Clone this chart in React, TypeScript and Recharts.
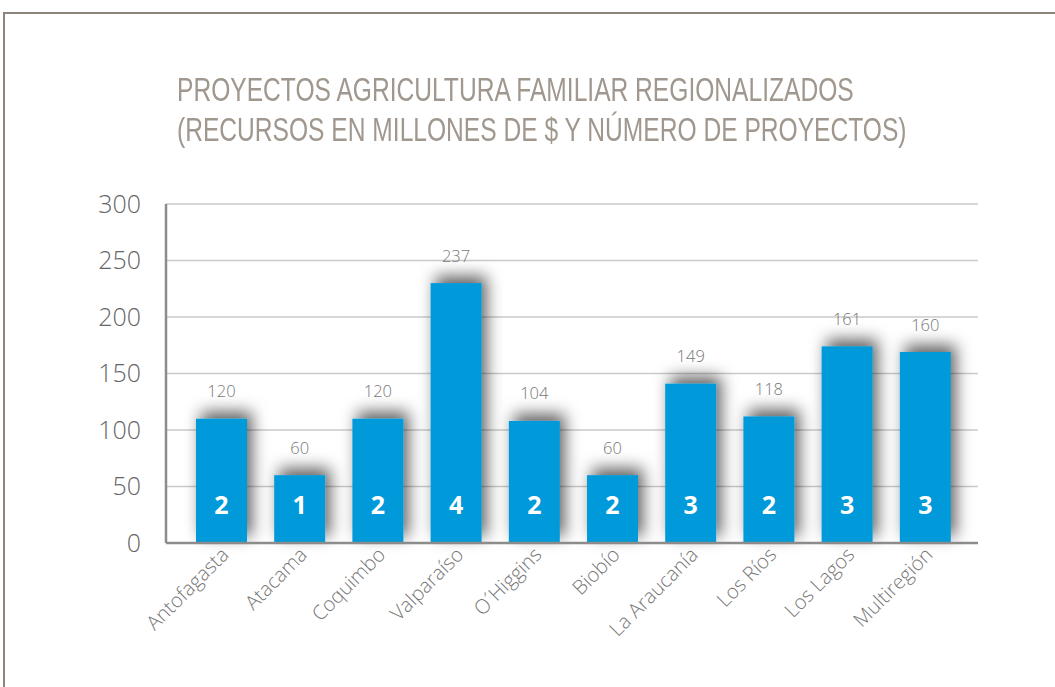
import React from 'react';
import { BarChart, Bar, XAxis, YAxis, CartesianGrid, LabelList } from 'recharts';

// regions along the x axis
const regions = [
  'Antofagasta', 'Atacama', 'Coquimbo', 'Valparaíso', 'O´Higgins',
  'Biobío', 'La Araucanía', 'Los Ríos', 'Los Lagos', 'Multiregión',
];
// bar heights as drawn (millones de $)
const resources = [110, 60, 110, 230, 108, 60, 141, 112, 174, 169];
// value labels printed above the bars
const resourceLabels = [120, 60, 120, 237, 104, 60, 149, 118, 161, 160];
// number of projects printed inside the bars
const projectCounts = [2, 1, 2, 4, 2, 2, 3, 2, 3, 3];
const yTicks = [0, 50, 100, 150, 200, 250, 300];

const titleLines = [
  'PROYECTOS AGRICULTURA FAMILIAR REGIONALIZADOS',
  '(RECURSOS EN MILLONES DE $ Y NÚMERO DE PROYECTOS)',
];

const data = regions.map((region, i) => ({
  region,
  value: resources[i],
  label: resourceLabels[i],
  count: projectCounts[i],
}));

const lightFont = '"Open Sans", "Segoe UI", sans-serif';

const ShadowBar = (props: any) => {
  const { x, y, width, height, fill } = props;
  return <rect x={x} y={y} width={width} height={height} fill={fill} filter="url(#barShadow)" />;
};

const TopLabel = (props: any) => {
  const vb = props.viewBox || props;
  const { x, y, width } = vb;
  return (
    <text x={x + width / 2} y={y - 28} textAnchor="middle" dominantBaseline="central"
      fontFamily={lightFont} fontWeight={300} fontSize={16.5} fill="#777777">
      {props.value}
    </text>
  );
};

const CountLabel = (props: any) => {
  const vb = props.viewBox || props;
  const { x, y, width, height } = vb;
  return (
    <text x={x + width / 2} y={y + height - 39} textAnchor="middle" dominantBaseline="central"
      fontFamily={lightFont} fontWeight={700} fontSize={25} fill="#ffffff">
      {props.value}
    </text>
  );
};

const RegionTick = (props: any) => {
  const { x, y, payload } = props;
  const tx = x + 9;
  const ty = y + 13;
  return (
    <text x={tx} y={ty} transform={`rotate(-45, ${tx}, ${ty})`} textAnchor="end"
      fontFamily={lightFont} fontWeight={300} fontSize={20} fill="#777777">
      {payload.value}
    </text>
  );
};

const titleStyle: React.CSSProperties = {
  position: 'absolute',
  left: 177,
  whiteSpace: 'nowrap',
  fontFamily: '"Liberation Sans", Arial, sans-serif',
  fontSize: 33,
  lineHeight: '33px',
  color: '#a0978e',
  transform: 'scaleX(0.745)',
  transformOrigin: 'left top',
};

export default function App() {
  return (
    <div style={{ position: 'absolute', left: 0, top: 0, width: 1055, height: 687, overflow: 'hidden', background: '#fff' }}>
      {/* frame */}
      <div style={{ position: 'absolute', left: 3, top: 12, width: 1200, height: 800, border: '2.5px solid #8d857c', boxSizing: 'border-box' }} />

      <svg width={0} height={0} style={{ position: 'absolute' }}>
        <defs>
          <filter id="barShadow" x="-60%" y="-60%" width="220%" height="220%">
            <feDropShadow dx="5" dy="-7" stdDeviation="8" floodColor="#000" floodOpacity="0.62" />
          </filter>
        </defs>
      </svg>

      <div style={{ position: 'absolute', left: 0, top: 0 }}>
        <BarChart width={1055} height={687} data={data} margin={{ top: 204, right: 77, left: 0, bottom: 44 }}>
          <CartesianGrid vertical={false} stroke="#cacaca" strokeWidth={1.5} />
          <XAxis dataKey="region" interval={0} height={100} padding={{ left: 16, right: 14 }}
            axisLine={{ stroke: '#8c8c8c', strokeWidth: 2.5 }} tickLine={false} tickSize={0} tickMargin={0}
            tick={<RegionTick />} />
          <YAxis width={166} domain={[0, 300]} ticks={yTicks} interval={0}
            axisLine={{ stroke: '#8c8c8c', strokeWidth: 2.5 }} tickLine={false} tickSize={0} tickMargin={25}
            tick={{ fontFamily: lightFont, fontWeight: 300, fontSize: 25, fill: '#666666' }} />
          <Bar dataKey="value" fill="#0099d9" barSize={51} shape={<ShadowBar />} isAnimationActive={false}>
            <LabelList dataKey="label" content={<TopLabel />} />
            <LabelList dataKey="count" content={<CountLabel />} />
          </Bar>
        </BarChart>
      </div>

      <div style={{ ...titleStyle, top: 73 }}>{titleLines[0]}</div>
      <div style={{ ...titleStyle, top: 113 }}>{titleLines[1]}</div>
    </div>
  );
}
